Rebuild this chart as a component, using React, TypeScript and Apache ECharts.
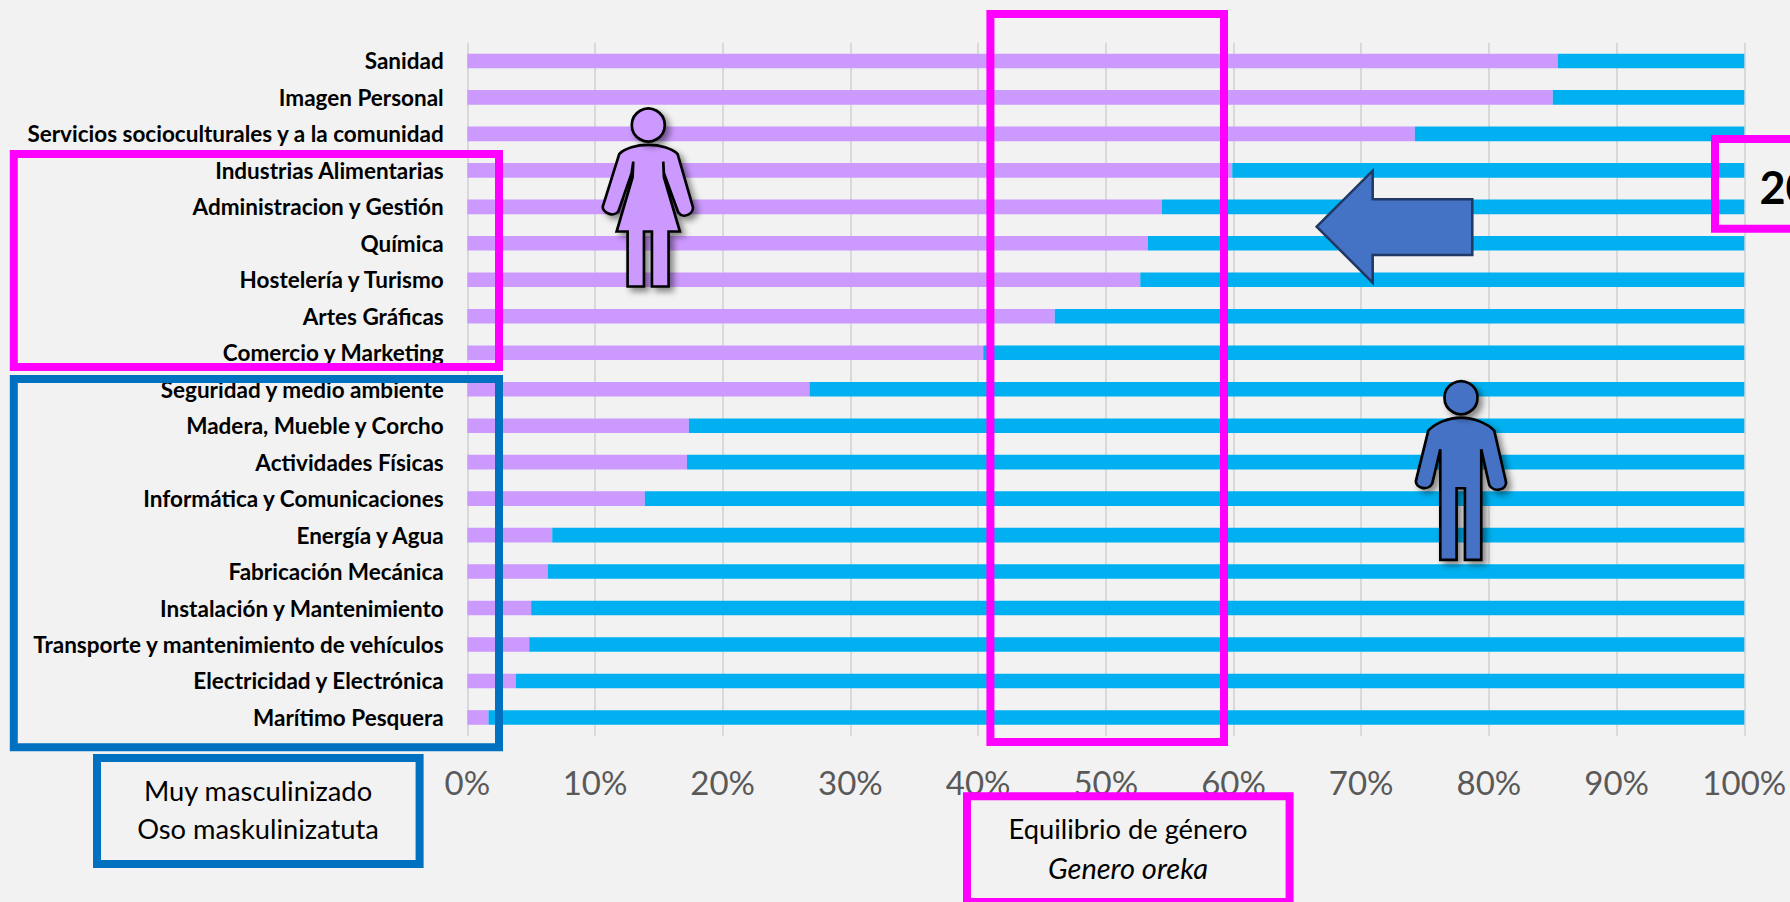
import React, { useEffect, useRef } from "react";
import * as echarts from "echarts";

const categories = [
  "Sanidad", "Imagen Personal", "Servicios socioculturales y a la comunidad",
  "Industrias Alimentarias", "Administracion y Gestión", "Química",
  "Hostelería y Turismo", "Artes Gráficas", "Comercio y Marketing",
  "Seguridad y medio ambiente", "Madera, Mueble y Corcho", "Actividades Físicas",
  "Informática y Comunicaciones", "Energía y Agua", "Fabricación Mecánica",
  "Instalación y Mantenimiento", "Transporte y mantenimiento de vehículos",
  "Electricidad y Electrónica", "Marítimo Pesquera",
];
const mujeres = [85.4, 85.0, 74.2, 59.9, 54.4, 53.3, 52.7, 46.0, 40.4, 26.8, 17.35, 17.2, 13.9, 6.65, 6.3, 5.0, 4.85, 3.8, 1.66];
const hombres = [14.6, 15.0, 25.8, 40.1, 45.6, 46.7, 47.3, 54.0, 59.6, 73.2, 82.65, 82.8, 86.1, 93.35, 93.7, 95.0, 95.15, 96.2, 98.34];

const FONT = "Lato, Carlito, 'Noto Sans', sans-serif";
const BG = "#F2F2F2";
const MAGENTA = "#FF00FF";
const BLUE_BOX = "#0070C0";
const FIGURE_BLUE = "#4472C4";
const FIGURE_PURPLE = "#CC99FF";

const WOMAN_D = "M205 165 C240 165 275 175 293 192 L338 348 C345 370 310 390 295 367 L252 250 L250 215 L252 262 L300 425 L266 425 L266 590 L216 590 L216 425 L192 425 L192 590 L143 590 L143 425 L110 425 L158 262 L160 215 L155 250 L115 365 C100 385 60 365 70 345 L118 192 C135 175 170 165 205 165 Z";
const MAN_D = "M183 143 C220 143 262 160 283 182 L318 335 C322 360 280 370 268 345 L244 238 L244 570 L195 570 L195 355 L170 355 L170 570 L121 570 L121 238 L97 340 C85 365 45 355 48 332 L85 182 C105 160 145 143 183 143 Z";
const ARROW_D = "M1316.7 226.7 L1372.7 170.7 L1372.7 199.3 L1472.3 199.3 L1472.3 255 L1372.7 255 L1372.7 282.7 Z";

echarts.graphic.registerShape("woman", echarts.graphic.extendPath(WOMAN_D, {}));
echarts.graphic.registerShape("man", echarts.graphic.extendPath(MAN_D, {}));
echarts.graphic.registerShape("arrowLeft", echarts.graphic.extendPath(ARROW_D, {}));

const shadow = { shadowBlur: 6, shadowOffsetX: 4, shadowOffsetY: 4, shadowColor: "rgba(0,0,0,0.45)" };

function box(x0: number, y0: number, x1: number, y1: number, color: string, fill: string | null, z: number) {
  return {
    type: "rect", z, silent: true,
    shape: { x: x0 + 4, y: y0 + 4, width: x1 - x0 - 8, height: y1 - y0 - 8 },
    style: { fill: fill || "transparent", stroke: color, lineWidth: 8 },
  };
}
function label(text: string, x: number, y: number, z: number, extra: any = {}) {
  return {
    type: "text", z, silent: true, x, y,
    style: { text, fill: "#000", font: `27.3px ${FONT}`, textAlign: "center", textVerticalAlign: "middle", ...extra },
  };
}
function figure(type: string, ox: number, oy: number, cx: number, cy: number, fill: string) {
  return [
    { type, z: 20, silent: true, x: ox, y: oy, scaleX: 1 / 3, scaleY: 1 / 3,
      style: { fill, stroke: "#000", lineWidth: 8, lineJoin: "miter", ...shadow } },
    { type: "circle", z: 20, silent: true, shape: { cx, cy, r: 16.5 },
      style: { fill, stroke: "#000", lineWidth: 2.7, ...shadow } },
  ];
}

const elements: any[] = [
  box(9.8, 150, 503, 371, MAGENTA, null, 10),
  box(9.8, 375, 503, 751.3, BLUE_BOX, null, 10),
  box(986.4, 10, 1228, 746, MAGENTA, null, 10),
  box(93, 754, 423.6, 868, BLUE_BOX, BG, 11),
  label("Muy masculinizado", 258, 790.7, 12),
  label("Oso maskulinizatuta", 258, 828.5, 12),
  box(963, 792.3, 1293.6, 906, MAGENTA, BG, 11),
  label("Equilibrio de género", 1128, 828.5, 12),
  label("Genero oreka", 1128, 867.5, 12, { font: `italic 29px ${FONT}` }),
  box(1711, 135, 1960, 232.7, MAGENTA, null, 10),
  label("20", 1759.5, 187, 12, { font: `bold 45px ${FONT}`, textAlign: "left" }),
  { type: "arrowLeft", z: 15, silent: true, style: { fill: FIGURE_BLUE, stroke: "#1F3864", lineWidth: 2.5 } },
  ...figure("woman", 580, 90, 648.3, 125, FIGURE_PURPLE),
  ...figure("man", 1400, 370, 1461, 397.7, FIGURE_BLUE),
];

export default function App() {
  const ref = useRef<HTMLDivElement>(null);
  useEffect(() => {
    document.body.style.margin = "0";
    document.body.style.background = BG;
    const chart = echarts.init(ref.current!, undefined, { renderer: "svg" });
    chart.setOption({
      animation: false,
      backgroundColor: BG,
      textStyle: { fontFamily: FONT },
      grid: { left: 467.3, right: 1790 - 1744.3, top: 42.7, bottom: 902 - 735.7, containLabel: false },
      xAxis: {
        type: "value", min: 0, max: 100, interval: 10,
        axisLine: { show: false }, axisTick: { show: false },
        splitLine: { show: true, lineStyle: { color: "#D9D9D9", width: 2 } },
        axisLabel: { formatter: "{value}%", color: "#595959", fontSize: 33, margin: 30, fontFamily: FONT },
      },
      yAxis: {
        type: "category", inverse: true, data: categories,
        axisLine: { show: false }, axisTick: { show: false },
        axisLabel: { color: "#000", fontWeight: "bold", fontSize: 22.5, margin: 23.6, padding: [0, 0, 2, 0], fontFamily: FONT },
      },
      series: [
        { name: "Mujeres", type: "bar", stack: "total", data: mujeres, barWidth: "40%", itemStyle: { color: "#CC99FF" } },
        { name: "Hombres", type: "bar", stack: "total", data: hombres, barWidth: "40%", itemStyle: { color: "#00B0F0" } },
      ],
      graphic: { elements },
    });
    return () => chart.dispose();
  }, []);
  return <div ref={ref} style={{ position: "absolute", left: 0, top: 0, width: 1790, height: 902, overflow: "hidden" }} />;
}
